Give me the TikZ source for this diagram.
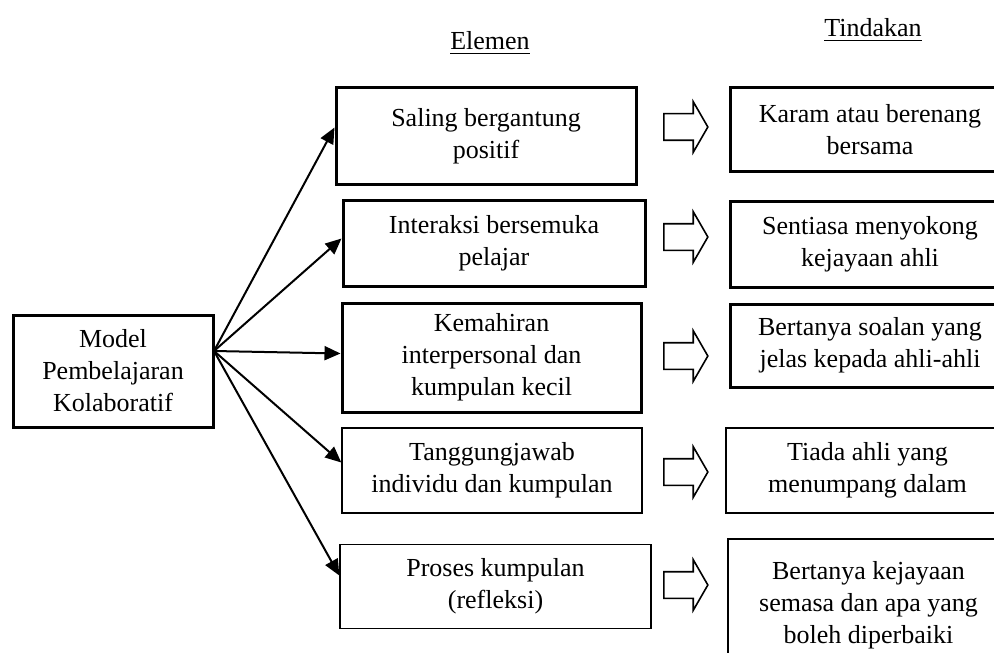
\documentclass[tikz,border=0pt]{standalone}
\usepackage{fontspec}
\setmainfont{Liberation Serif}
\usetikzlibrary{shapes.arrows,arrows.meta}

\begin{document}
\begin{tikzpicture}[x=0.5pt, y=-0.5pt]
		\tikzstyle{every node}=[align=center, inner sep=0pt, font=\fontsize{13}{16}\selectfont]
		\tikzstyle{tebal}=[draw, line width=1.5pt]
		\tikzstyle{nipis}=[draw, line width=0.7pt]
		\tikzstyle{panah}=[single arrow, draw, line width=0.8pt, inner ysep=6.25pt, minimum height=22pt, single arrow head extend=6pt, single arrow tip angle=120]
		\tikzstyle{anak}=[-{Triangle[length=8pt, width=7pt]}, line width=1pt]
		\useasboundingbox (0,0) rectangle (994,652);
		\clip (0,0) rectangle (994,652);
		% Tajuk
		\draw{
			(490,50)node[anchor=base](elemen){\underline{Elemen}}
			(873,37)node[anchor=base](tindakan){\underline{Tindakan}}
		};
		
		% Model
		\node[tebal, minimum width=100pt, minimum height=56pt] (model) at (113,371) {Model\\Pembelajaran\\Kolaboratif};
		\coordinate (pusat) at (214,351);
		
		% Elemen
		\node[tebal, minimum width=150pt, minimum height=48.5pt] (el1) at (486,136.5) {Saling bergantung\\positif};
		\node[tebal, minimum width=151pt, minimum height=42.5pt] (el2) at (494,243.5) {Interaksi bersemuka\\pelajar};
		\node[tebal, minimum width=149.5pt, minimum height=54.5pt] (el3) at (491.5,357.5) {Kemahiran\\interpersonal dan\\kumpulan kecil};
		\node[nipis, minimum width=150pt, minimum height=42.5pt] (el4) at (492,470.5) {Tanggungjawab\\individu dan kumpulan};
		\node[nipis, minimum width=155.5pt, minimum height=42pt] (el5) at (495.5,586.5) {Proses kumpulan\\(refleksi)};
		
		%Arrow
		\draw[anak] (pusat) -- ([yshift=4.5pt]el1.west);
		\draw[anak] (pusat) -- ([yshift=2.5pt]el2.west);
		\draw[anak] (pusat) -- ([yshift=2pt]el3.west);
		\draw[anak] (pusat) -- ([yshift=4pt]el4.west);
		\draw[anak] (pusat) -- ([yshift=5.5pt]el5.west);
		
		% Tindakan
		\node[tebal, minimum width=140pt, minimum height=42pt] (tin1) at (870,130) {Karam atau berenang\\bersama};
		\node[tebal, minimum width=140pt, minimum height=42.5pt] (tin2) at (870,244.5) {Sentiasa menyokong\\kejayaan ahli};
		\node[tebal, minimum width=140pt, minimum height=41.5pt] (tin3) at (870,345.5) {Bertanya soalan yang\\jelas kepada ahli-ahli};
		\node[nipis, minimum width=141.5pt, minimum height=42.5pt] (tin4) at (867.5,470.5) {Tiada ahli yang\\menumpang dalam};
		\node[nipis, line width=1pt, minimum width=141pt, minimum height=66pt] (tin5) at (868.5,605) {Bertanya kejayaan\\semasa dan apa yang\\boleh diperbaiki};
		
		% Panah
		\foreach \i/\y in {1/127, 2/237, 3/356, 4/472, 5/585}
			\node[panah] (panah\i) at (682,\y) {};
	\end{tikzpicture}
\end{document}
